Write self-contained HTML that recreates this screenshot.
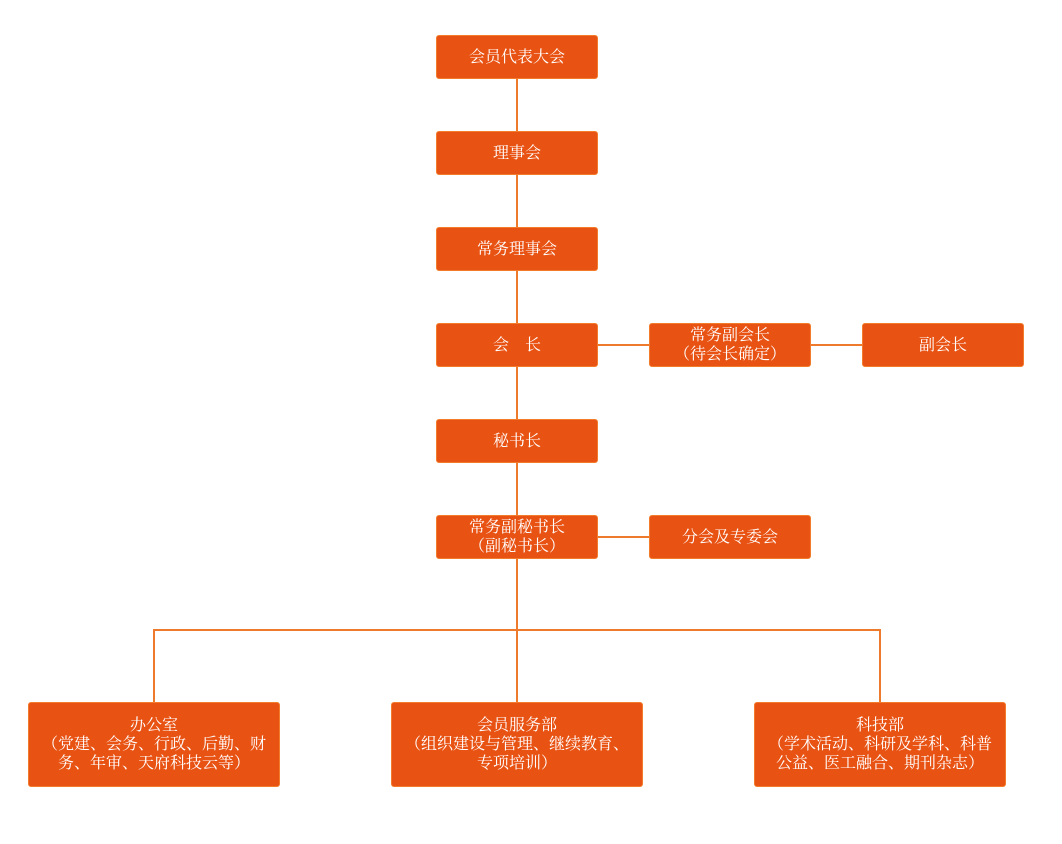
<!DOCTYPE html>
<html><head><meta charset="utf-8"><style>
body{margin:0;width:1062px;height:844px;background:#fff;position:relative;overflow:hidden;font-family:"Liberation Serif","Noto Serif CJK SC",serif;}
.b{position:absolute;box-sizing:border-box;background:#E85213;border:1.5px solid #F27C2C;border-radius:3px;color:#fff;font-size:16px;line-height:19px;display:flex;align-items:center;justify-content:center;text-align:center;}
.l{position:absolute;background:#EE7A2E;}
</style></head><body>
<div class="l" style="left:516px;top:78px;width:2px;height:552px"></div>
<div class="l" style="left:153px;top:629px;width:728px;height:2px"></div>
<div class="l" style="left:153px;top:629px;width:2px;height:74px"></div>
<div class="l" style="left:879px;top:629px;width:2px;height:74px"></div>
<div class="l" style="left:516px;top:629px;width:2px;height:74px"></div>
<div class="l" style="left:597px;top:344px;width:266px;height:2px"></div>
<div class="l" style="left:597px;top:536px;width:53px;height:2px"></div>

<div class="b" style="left:436px;top:35px;width:162px;height:44px">会员代表大会</div>
<div class="b" style="left:436px;top:131px;width:162px;height:44px">理事会</div>
<div class="b" style="left:436px;top:227px;width:162px;height:44px">常务理事会</div>
<div class="b" style="left:436px;top:323px;width:162px;height:44px">会&nbsp;&nbsp;&nbsp;&nbsp;长</div>
<div class="b" style="left:649px;top:323px;width:162px;height:44px">常务副会长<br>（待会长确定）</div>
<div class="b" style="left:862px;top:323px;width:162px;height:44px">副会长</div>
<div class="b" style="left:436px;top:419px;width:162px;height:44px">秘书长</div>
<div class="b" style="left:436px;top:515px;width:162px;height:44px">常务副秘书长<br>（副秘书长）</div>
<div class="b" style="left:649px;top:515px;width:162px;height:44px">分会及专委会</div>
<div class="b" style="left:28px;top:702px;width:252px;height:85px;padding:0 12px">办公室<br>（党建、会务、行政、后勤、财务、年审、天府科技云等）</div>
<div class="b" style="left:391px;top:702px;width:252px;height:85px;padding:0 12px">会员服务部<br>（组织建设与管理、继续教育、专项培训）</div>
<div class="b" style="left:754px;top:702px;width:252px;height:85px;padding:0 12px">科技部<br>（学术活动、科研及学科、科普公益、医工融合、期刊杂志）</div>
</body></html>
